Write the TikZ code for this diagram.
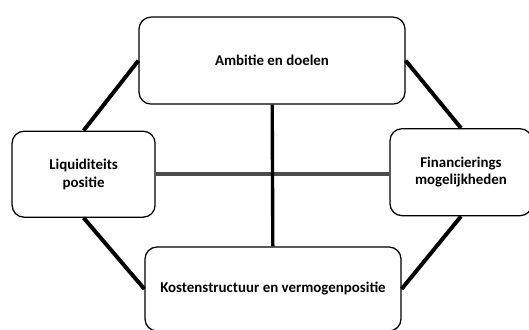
\documentclass[tikz,border=0pt]{standalone}
\usepackage{fontspec}
\setmainfont{Carlito}
\usepackage{tikz}

\begin{document}
\begin{tikzpicture}[every node/.style={draw, rounded corners=0.3cm, line width=0.9pt, align=center, font=\bfseries\fontsize{10.6}{12.5}\selectfont}]
\useasboundingbox (0,0) rectangle (13.225,8.225);
% Points
\node[minimum width=6.65cm, minimum height=2.175cm] (doelen) at (6.8,6.71) {Ambitie en doelen};
\node[minimum width=3.575cm, minimum height=2.15cm] (liquiditeit) at (2.09,3.87) {Liquiditeits\\ positie};
\node[minimum width=3.55cm, minimum height=2.175cm] (financiering) at (11.525,3.92) {Financierings\\ mogelijkheden};
\node[minimum width=6.4cm, minimum height=2.1cm] (kosten) at (6.825,1.0) {Kostenstructuur en vermogenpositie};
\coordinate (midden) at (liquiditeit.east -| financiering.west);

%Lines
\draw[line width=2.6pt, black!70] (liquiditeit.east) -- (midden);
\draw[line width=2.4pt] (doelen) -- (kosten);
\draw[line width=2.8pt] (doelen.west) -- (liquiditeit.north);
\draw[line width=2.8pt] (doelen.east) -- (financiering.north);
\draw[line width=2.8pt] (liquiditeit.south) -- (kosten.west);
\draw[line width=2.8pt] (financiering.south) -- (kosten.east);
\end{tikzpicture}
\end{document}
